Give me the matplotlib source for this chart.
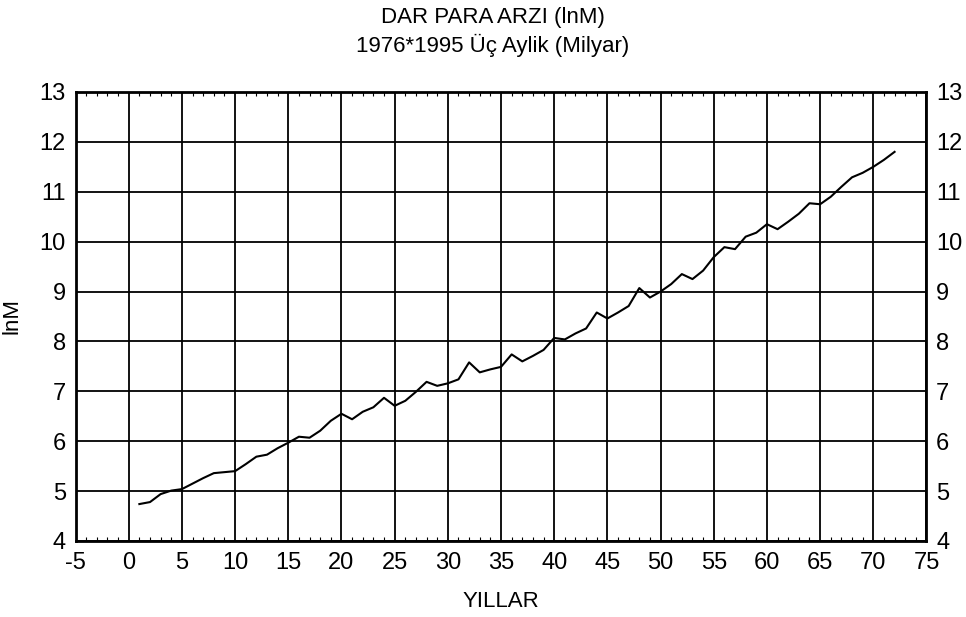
import matplotlib
matplotlib.use('Agg')
import numpy as np
import matplotlib.pyplot as plt
from matplotlib.ticker import MultipleLocator

# quarterly narrow money supply (lnM)
quarters = list(range(1, 73))
lnm = [4.74, 4.78, 4.94, 5.01, 5.04, 5.15, 5.26, 5.36, 5.38, 5.40,
       5.54, 5.69, 5.73, 5.86, 5.97, 6.09, 6.07, 6.21, 6.41, 6.55,
       6.44, 6.59, 6.68, 6.87, 6.71, 6.81, 6.99, 7.19, 7.11, 7.16,
       7.24, 7.58, 7.38, 7.44, 7.49, 7.74, 7.60, 7.71, 7.83, 8.07,
       8.04, 8.16, 8.26, 8.58, 8.46, 8.58, 8.71, 9.07, 8.88, 9.00,
       9.15, 9.35, 9.25, 9.42, 9.69, 9.89, 9.85, 10.10, 10.18, 10.35,
       10.25, 10.40, 10.56, 10.77, 10.75, 10.90, 11.10, 11.29, 11.38, 11.50,
       11.64, 11.80]

xticks = list(range(-5, 80, 5))
yticks = list(range(4, 14))

title1 = 'DAR PARA ARZI (lnM)'
title2 = '1976*1995 Üç Aylik (Milyar)'

plt.rcParams['font.family'] = ['Liberation Sans', 'DejaVu Sans']
plt.rcParams['axes.unicode_minus'] = False

fig = plt.figure(figsize=(9.66, 6.17), dpi=100)
ax = fig.add_axes([0.0782, 0.1232, 0.8809, 0.7277])

ax.plot(quarters, lnm, color='black', linewidth=1.5)

ax.set_xlim(-5, 75)
ax.set_ylim(4, 13)
ax.set_xticks(xticks)
ax.set_yticks(yticks)
ax.xaxis.set_minor_locator(MultipleLocator(1))
ax.grid(True, which='major', color='black', linewidth=1.3)
ax.set_axisbelow(True)

ax.tick_params(which='both', direction='in', top=True, right=True,
               labelright=True, labelsize=17)
ax.tick_params(which='major', length=0)
ax.tick_params(which='minor', length=3, width=0.8)
ax.tick_params(axis='x', pad=8)
ax.tick_params(axis='y', pad=7)

for s in ax.spines.values():
    s.set_linewidth(2)

ax.set_xlabel('YILLAR', fontsize=16, labelpad=12)
ax.set_ylabel('lnM', fontsize=16, labelpad=12)

fig.text(0.510, 0.972, title1, ha='center', va='center', fontsize=16)
fig.text(0.510, 0.927, title2, ha='center', va='center', fontsize=16)

fig.savefig('out.png', dpi=100)
